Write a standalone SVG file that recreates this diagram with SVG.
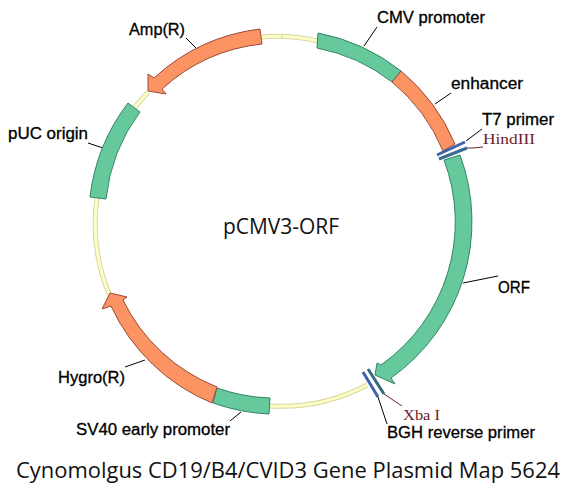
<svg xmlns="http://www.w3.org/2000/svg" width="565" height="494" viewBox="0 0 565 494">
<style>
.ring{fill:none;stroke:#d8d8a0;stroke-width:5}
.ringi{fill:none;stroke:#fdfdc8;stroke-width:3}
.g{fill:#66c99b;stroke:#2f8468;stroke-width:1}
.o{fill:#fb9363;stroke:#9a4a38;stroke-width:1}
.l{fill:none;stroke:#000;stroke-width:1}
.r{fill:none;stroke:#6b2226;stroke-width:1}
text{font-family:"Liberation Sans",Arial,sans-serif;fill:#000;font-size:16px;stroke:#000;stroke-width:.3}
.s{font-family:"Liberation Serif","Times New Roman",serif;fill:#6b2226;font-size:15px;stroke:none}
.t{font-family:"Open Sans","Noto Sans",sans-serif;fill:#111;stroke:none}
</style>
<rect width="565" height="494" fill="#fff"/>
<g id="backbone">
<path class="ring" d="M261,37 A184 185 0 0 1 318,41"/><path class="ringi" d="M261,37 A184 185 0 0 1 318,41"/>
<path class="ring" d="M148,92 L135,107"/><path class="ringi" d="M148,92 L135,107"/>
<path class="ring" d="M97,198 A184 185 0 0 0 109,294"/><path class="ringi" d="M97,198 A184 185 0 0 0 109,294"/>
<path class="ring" d="M270,406 A184 185 0 0 0 367,385"/><path class="ringi" d="M270,406 A184 185 0 0 0 367,385"/>
<path d="M282,34.500V39" stroke="#d8d8a0" stroke-width="1"/>
</g>
<g id="connectors">
<path class="l" d="M364,46 L377,27"/>
<path class="l" d="M435,104 L451,93"/>
<path class="l" d="M466,141 L482,129"/>
<path class="r" d="M467,148 H473 L483,147"/>
<path class="l" d="M463,283 L498,276"/>
<path class="r" d="M384,394 L402,406"/>
<path class="l" d="M378,397 L387,424"/>
<path class="l" d="M186,38 L196,48"/>
<path class="l" d="M88,143 L103,148"/>
<path class="l" d="M125,367 L145,360"/>
<path class="l" d="M230,421 L241,412"/>
</g>
<g id="cmv-promoter"><path class="g" d="M318,33 A192 192 0 0 1 401,71 L392,82 A177 177 0 0 0 317,48 Z"/><text x="377" y="23" textLength="108" lengthAdjust="spacingAndGlyphs">CMV promoter</text></g>
<g id="enhancer"><path class="o" d="M401,71 A192 192 0 0 1 455,144 L443,151 A177 177 0 0 0 392,82 Z"/><text x="451" y="89" textLength="72" lengthAdjust="spacingAndGlyphs">enhancer</text></g>
<g id="t7-primer"><path d="M437,155 L465,142" stroke="#3f63a8" stroke-width="3" fill="none"/><text x="482" y="125" textLength="72" lengthAdjust="spacingAndGlyphs">T7 primer</text></g>
<g id="hindiii"><path d="M439,159 L467,148" stroke="#376b90" stroke-width="3" fill="none"/><text class="s" x="483" y="144" textLength="52" lengthAdjust="spacingAndGlyphs">HindIII</text></g>
<g id="orf"><path class="g" d="M460,155 A191.500 191.500 0 0 1 391,378 L395,384 L375,375 L377,363 L381,365 A175 175 0 0 0 444,160 Z"/><text x="498" y="293" textLength="32" lengthAdjust="spacingAndGlyphs">ORF</text></g>
<g id="xba-i"><path d="M368,369 L384,394" stroke="#2f6a80" stroke-width="3" fill="none"/><text class="s" x="403" y="420" textLength="37" lengthAdjust="spacingAndGlyphs">Xba I</text></g>
<g id="bgh-reverse-primer"><path d="M363,372 L378,397" stroke="#3f63a8" stroke-width="3" fill="none"/><text x="387" y="438" textLength="148" lengthAdjust="spacingAndGlyphs">BGH reverse primer</text></g>
<g id="sv40-early-promoter"><path class="g" d="M270,398 A178 178 0 0 1 217,388 L213,403 A194 194 0 0 0 269,414 Z"/><text x="76" y="435" textLength="154" lengthAdjust="spacingAndGlyphs">SV40 early promoter</text></g>
<g id="hygro-r"><path class="o" d="M217,387 A177 177 0 0 1 123,300 L127,297 L110,293 L102,309 L111,306 A192 192 0 0 0 212,403 Z"/><text x="58" y="383" textLength="67" lengthAdjust="spacingAndGlyphs">Hygro(R)</text></g>
<g id="puc-origin"><path class="g" d="M128,103 A192 192 0 0 0 90,197 L106,199 A176 176 0 0 1 140,112 Z"/><text x="8" y="139" textLength="80" lengthAdjust="spacingAndGlyphs">pUC origin</text></g>
<g id="amp-r"><path class="o" d="M260,29 A191 191 0 0 0 154,78 L148,74 L148,91 L166,94 L162,89 A176 176 0 0 1 262,44 Z"/><text x="129" y="35" textLength="56" lengthAdjust="spacingAndGlyphs">Amp(R)</text></g>
<text class="t" x="223" y="234" style="font-size:22px" textLength="116" lengthAdjust="spacingAndGlyphs">pCMV3-ORF</text>
<text class="t" x="16" y="478" style="font-size:21px" textLength="544" lengthAdjust="spacingAndGlyphs">Cynomolgus CD19/B4/CVID3 Gene Plasmid Map 5624</text>
</svg>
